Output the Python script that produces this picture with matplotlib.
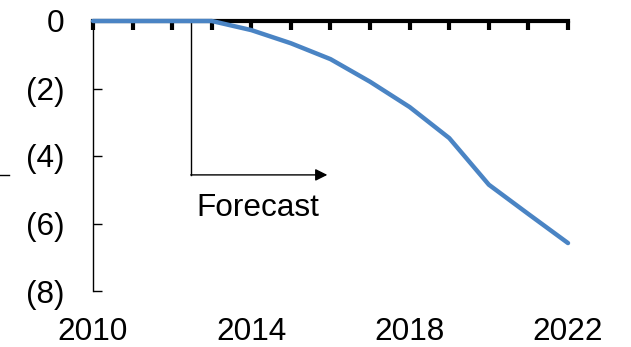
import matplotlib
matplotlib.use("Agg")
import matplotlib.pyplot as plt
from matplotlib.lines import Line2D
from matplotlib.ticker import FixedLocator, FuncFormatter

plt.rcParams["font.family"] = ["Liberation Sans", "DejaVu Sans"]

# Annual balance path (actual through 2013, forecast afterwards)
years = [2010, 2011, 2012, 2013, 2014, 2015, 2016, 2017, 2018, 2019, 2020, 2021, 2022]
values = [0.0, 0.0, 0.0, 0.0, -0.27, -0.66, -1.13, -1.80, -2.55, -3.47, -4.85, -5.72, -6.58]

x_labels = {2010: "2010", 2014: "2014", 2018: "2018", 2022: "2022"}
y_ticks = [0, -2, -4, -6, -8]
y_labels = ["0", "(2)", "(4)", "(6)", "(8)"]

FS = 22.7
LINE_BLUE = "#4A84C4"

fig = plt.figure(figsize=(6.31, 3.47), dpi=100)
ax = fig.add_axes([93 / 631, 1 - 291 / 347, (568 - 93) / 631, (291 - 21) / 347])

ax.plot(years, values, color=LINE_BLUE, lw=3.2, zorder=3, clip_on=False,
        solid_joinstyle="round", solid_capstyle="round")

ax.set_xlim(2010, 2022)
ax.set_ylim(-8, 0)

# Spines: heavy axis line along zero, thin value axis on the left
for side in ("right", "bottom"):
    ax.spines[side].set_visible(False)
ax.spines["top"].set_linewidth(3.0)
ax.spines["top"].set_color("black")
ax.spines["left"].set_linewidth(1.0)
ax.spines["left"].set_color("black")

ax.xaxis.set_major_locator(FixedLocator(years))
ax.xaxis.set_major_formatter(FuncFormatter(lambda v, p: x_labels.get(int(round(v)), "")))
ax.tick_params(axis="x", which="major", top=True, bottom=False, labeltop=False,
               labelbottom=True, direction="in", length=6.5, width=3.0,
               pad=19.0, labelsize=FS, colors="black")

ax.set_yticks(y_ticks)
ax.set_yticklabels(y_labels)
ax.tick_params(axis="y", direction="in", length=6.5, width=1.0, pad=20.5,
               labelsize=FS, colors="black")

# Forecast marker: drop line from the axis, then arrow to the right
ax.plot([2012.47, 2012.47], [0, -4.56], color="black", lw=1.0, zorder=2)
ax.annotate("", xy=(2015.92, -4.56), xytext=(2012.47, -4.56),
            arrowprops=dict(arrowstyle="-|>", color="black", lw=1.0,
                            mutation_scale=18, shrinkA=0, shrinkB=0))
ax.text(2014.17, -5.54, "Forecast", fontsize=FS, ha="center", va="center")

# Short rule at the left edge
fig.add_artist(Line2D([0, 9 / 631], [1 - 175 / 347] * 2, transform=fig.transFigure,
                      color="black", lw=1.0))

fig.savefig("out.png", dpi=100)
